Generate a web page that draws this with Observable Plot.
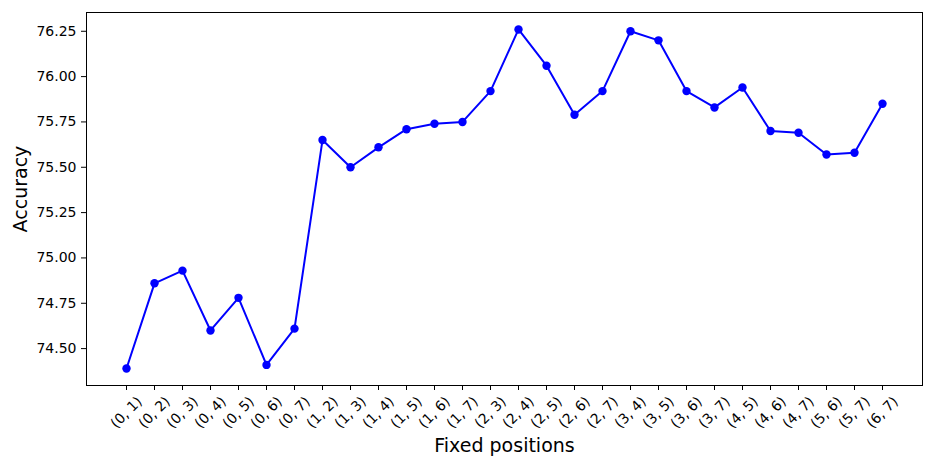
<!DOCTYPE html>
<html>
<head>
<meta charset="utf-8">
<script src="https://cdn.jsdelivr.net/npm/d3@7"></script>
<script src="https://cdn.jsdelivr.net/npm/@observablehq/plot@0.6"></script>
<style>
  html, body { margin: 0; padding: 0; background: #fff; }
  #chart svg { display: block; }
</style>
</head>
<body>
<div id="chart"></div>
<script>
const positions = ["(0, 1)","(0, 2)","(0, 3)","(0, 4)","(0, 5)","(0, 6)","(0, 7)",
  "(1, 2)","(1, 3)","(1, 4)","(1, 5)","(1, 6)","(1, 7)",
  "(2, 3)","(2, 4)","(2, 5)","(2, 6)","(2, 7)",
  "(3, 4)","(3, 5)","(3, 6)","(3, 7)",
  "(4, 5)","(4, 6)","(4, 7)",
  "(5, 6)","(5, 7)",
  "(6, 7)"];
const accuracy = [74.39, 74.86, 74.93, 74.60, 74.78, 74.41, 74.61,
  75.65, 75.50, 75.61, 75.71, 75.74, 75.75,
  75.92, 76.26, 76.06, 75.79, 75.92,
  76.25, 76.20, 75.92, 75.83,
  75.94, 75.70, 75.69,
  75.57, 75.58,
  75.85];
const yTicks = [74.50, 74.75, 75.00, 75.25, 75.50, 75.75, 76.00, 76.25];

const data = positions.map((p, i) => ({pos: p, acc: accuracy[i]}));
const font = "DejaVu Sans, sans-serif";

const chart = Plot.plot({
  width: 934,
  height: 467,
  marginLeft: 86,
  marginRight: 12,
  marginTop: 12,
  marginBottom: 82,
  style: {fontFamily: font, background: "#fff", color: "#000"},
  x: {type: "point", domain: positions, padding: 1.35},
  y: {domain: [74.2965, 76.3535]},
  marks: [
    Plot.frame({stroke: "#000", strokeWidth: 1}),
    Plot.axisY({ticks: yTicks, tickFormat: d => d.toFixed(2), tickSize: 5, tickPadding: 5,
      fontSize: 14, label: null, stroke: "#000"}),
    Plot.axisX({tickSize: 5, tickFormat: null, label: null, stroke: "#000"}),
    Plot.text(positions, {x: d => d, frameAnchor: "bottom", dy: 27, rotate: -45,
      textAnchor: "middle", lineAnchor: "middle", fontSize: 14, fill: "#000"}),
    Plot.line(data, {x: "pos", y: "acc", stroke: "#0000ff", strokeWidth: 2}),
    Plot.dot(data, {x: "pos", y: "acc", fill: "#0000ff", r: 4.2, stroke: "none"}),
    Plot.text(["Fixed positions"], {frameAnchor: "bottom", dy: 60, text: d => d,
      fontSize: 19, fill: "#000", textAnchor: "middle", lineAnchor: "middle"}),
    Plot.text(["Accuracy"], {frameAnchor: "left", dx: -66, dy: -10, text: d => d,
      fontSize: 19, fill: "#000", rotate: -90, textAnchor: "middle", lineAnchor: "middle"})
  ]
});
document.getElementById("chart").appendChild(chart);
</script>
</body>
</html>
